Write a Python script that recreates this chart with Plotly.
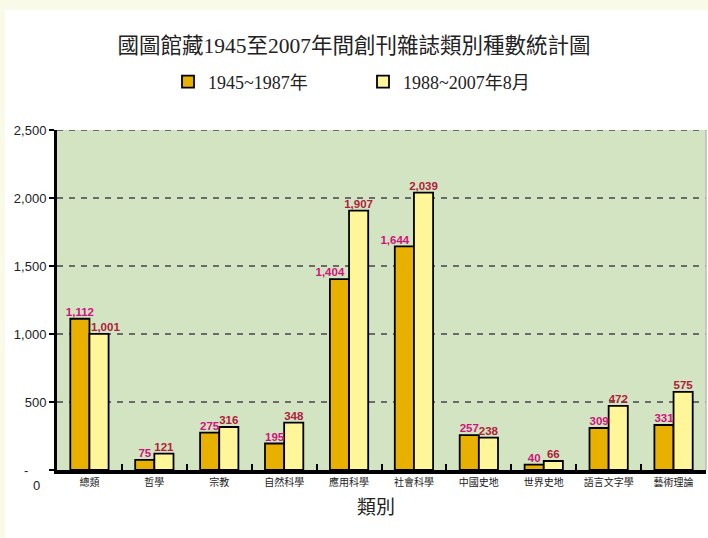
import plotly.graph_objects as go

categories = ["總類", "哲學", "宗教", "自然科學", "應用科學", "社會科學", "中國史地", "世界史地", "語言文字學", "藝術理論"]
series1_name = "1945~1987年"
series2_name = "1988~2007年8月"
series1 = [1112, 75, 275, 195, 1404, 1644, 257, 40, 309, 331]
series2 = [1001, 121, 316, 348, 1907, 2039, 238, 66, 472, 575]
y_tickvals = [0, 500, 1000, 1500, 2000, 2500]
y_ticktext = ["-" + "\u00a0" * 5, "500", "1,000", "1,500", "2,000", "2,500"]

W, H = 708, 538
L, R, T, B = 57, 2, 130, 68
pw, ph = W - L - R, H - T - B

def px_x(x):
    return (x - L) / pw

def px_y(y):
    return (H - B - y) / ph

serif = "Liberation Serif, Noto Sans CJK TC, serif"
cjk = "Noto Sans CJK TC, sans-serif"
sans = "Liberation Sans, Arial, sans-serif"
c1, c2 = "#E8B100", "#FFF69A"
t1, t2 = "#D0127E", "#B0203A"
NB = "\u00a0"

# label nudging (like the spreadsheet's collision avoidance): pad with spaces
labels1, labels2 = [], []
for a, b in zip(series1, series2):
    s1, s2 = f"{a:,}", f"{b:,}"
    labels1.append(s1 + (NB * 6 if (len(s1) >= 5 and b > a) else ""))
    labels2.append((NB * 4 if (len(s2) >= 5 and a > b) else "") + s2)

fig = go.Figure()
fig.add_trace(go.Bar(
    x=categories, y=series1, name=series1_name,
    marker=dict(color=c1, line=dict(color="#000000", width=1.8)),
))
fig.add_trace(go.Bar(
    x=categories, y=series2, name=series2_name,
    marker=dict(color=c2, line=dict(color="#000000", width=1.8)),
))
# value labels drawn on top of the bars
fig.add_trace(go.Scatter(
    x=categories, y=series1, mode="text", text=labels1,
    textposition="top center", showlegend=False, hoverinfo="skip", cliponaxis=False,
    textfont=dict(family=sans, size=11.5, color=t1, weight="bold"),
))
fig.add_trace(go.Scatter(
    x=categories, y=series2, mode="text", text=labels2,
    textposition="top center", showlegend=False, hoverinfo="skip", cliponaxis=False,
    textfont=dict(family=sans, size=11.5, color=t2, weight="bold"),
))

fig.update_layout(
    width=W, height=H,
    margin=dict(l=L, r=R, t=T, b=B, pad=0),
    paper_bgcolor="#FFFFFF",
    plot_bgcolor="#D3E4C2",
    barmode="group", bargap=0.41, bargroupgap=0,
    scattermode="group", scattergap=0.41,
    title=dict(text="國圖館藏1945至2007年間創刊雜誌類別種數統計圖",
               x=0.5, xanchor="center", y=1 - 45 / H, yanchor="middle",
               font=dict(family=serif, size=21.5, color="#222222")),
    legend=dict(orientation="h", x=px_x(168), xanchor="left", y=px_y(82), yanchor="middle",
                entrywidth=150, entrywidthmode="pixels",
                font=dict(family=serif, size=18, color="#222222"),
                bgcolor="rgba(0,0,0,0)", itemwidth=30),
    showlegend=True,
)

fig.update_yaxes(
    range=[0, 2500], tickvals=y_tickvals, ticktext=y_ticktext,
    showline=True, linecolor="#000000", linewidth=3,
    ticks="outside", ticklen=5, tickwidth=2, tickcolor="#000000",
    tickfont=dict(family=sans, size=13, color="#222222"),
    showgrid=True, gridcolor="#6B6B6B", gridwidth=2, griddash="6px,6px",
    zeroline=False, fixedrange=True,
)
fig.update_xaxes(
    showline=True, linecolor="#000000", linewidth=4,
    ticks="inside", tickson="boundaries", ticklen=6, tickwidth=2, tickcolor="#000000",
    tickfont=dict(family=cjk, size=10, color="#222222"),
    showgrid=False, zeroline=False, fixedrange=True,
)

# cream page border strips, right plot border, top dashed gridline
fig.add_shape(type="rect", xref="paper", yref="paper", x0=px_x(0), x1=px_x(5), y0=px_y(H), y1=px_y(0),
              fillcolor="#FAFAE8", line=dict(width=0), layer="below")
fig.add_shape(type="rect", xref="paper", yref="paper", x0=px_x(0), x1=px_x(W), y0=px_y(10), y1=px_y(0),
              fillcolor="#FAFAE8", line=dict(width=0), layer="below")
fig.add_shape(type="line", xref="paper", yref="paper", x0=1, x1=1, y0=0, y1=1,
              line=dict(color="#BBBBBB", width=1.5))
fig.add_shape(type="line", xref="paper", yref="y", x0=0, x1=1, y0=y_tickvals[-1], y1=y_tickvals[-1],
              line=dict(color="#6B6B6B", width=2, dash="6px,6px"), layer="below")

fig.add_annotation(text="0", xref="paper", yref="y", x=px_x(31), y=0, yshift=-15,
                   showarrow=False, font=dict(family=sans, size=13, color="#222222"))
fig.add_annotation(text="類別", xref="paper", yref="paper", x=px_x(376), y=px_y(520),
                   showarrow=False, font=dict(family=serif, size=19, color="#222222"))

fig.write_html("out.html", config={"displayModeBar": False},
               post_script="document.body.style.margin='0px';document.body.style.overflow='hidden';")
